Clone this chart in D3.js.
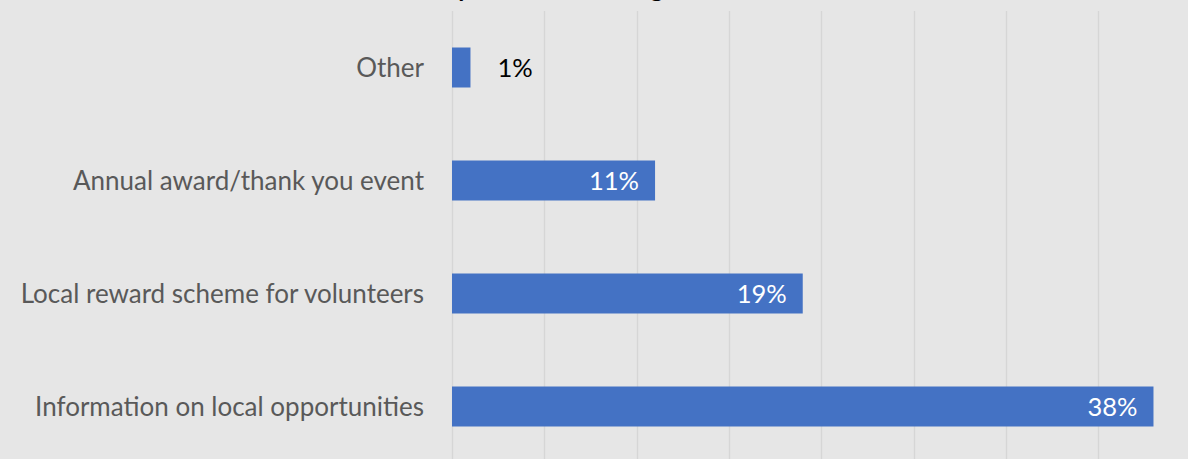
<!DOCTYPE html>
<html>
<head>
<meta charset="utf-8">
<script src="https://cdn.jsdelivr.net/npm/d3@7"></script>
<style>
  html, body { margin: 0; padding: 0; background: #e6e6e6; overflow: hidden; }
  svg { display: block; }
</style>
</head>
<body>
<svg id="chart" width="1188" height="459"></svg>
<script>
// Survey results: share of respondents per recognition method
const categories = [
  "Other",
  "Annual award/thank you event",
  "Local reward scheme for volunteers",
  "Information on local opportunities"
];
const values = [1, 11, 19, 38];
const valueLabels = ["1%", "11%", "19%", "38%"];
const xTicks = [0, 5, 10, 15, 20, 25, 30, 35, 40];
const chartTitle = "Methods used by councils to recognise volunteers";

const W = 1188, H = 459;
const plot = { left: 452, right: 1190.4, top: 11, bottom: 463 };
const FONT = "Lato, 'Open Sans', sans-serif";
const BAR = "#4472c4";

const svg = d3.select("#chart");
svg.append("rect").attr("width", W).attr("height", H).attr("fill", "#e6e6e6");

const x = d3.scaleLinear().domain([0, 40]).range([plot.left, plot.right]);
const y = d3.scaleBand()
  .domain(categories)
  .range([plot.top, plot.bottom])
  .paddingInner(0.646)
  .paddingOuter(0.323);

// vertical gridlines
svg.append("g")
  .selectAll("line")
  .data(xTicks)
  .join("line")
  .attr("x1", d => Math.round(x(d)) + 0.5)
  .attr("x2", d => Math.round(x(d)) + 0.5)
  .attr("y1", plot.top)
  .attr("y2", plot.bottom)
  .attr("stroke", "#d6d6d6")
  .attr("stroke-width", 1.3);

const rows = categories.map((c, i) => ({ cat: c, v: values[i], label: valueLabels[i] }));

// bars
svg.append("g")
  .selectAll("rect")
  .data(rows)
  .join("rect")
  .attr("x", x(0))
  .attr("y", d => y(d.cat))
  .attr("width", d => x(d.v) - x(0))
  .attr("height", y.bandwidth())
  .attr("fill", BAR);

// category labels
svg.append("g")
  .selectAll("text")
  .data(rows)
  .join("text")
  .attr("x", plot.left - 28)
  .attr("y", d => y(d.cat) + y.bandwidth() / 2)
  .attr("dy", "0.36em")
  .attr("text-anchor", "end")
  .attr("font-family", FONT)
  .attr("font-size", 26)
  .attr("fill", "#595959")
  .text(d => d.cat);

// value labels: inside the bar end when they fit, otherwise just past it
const vl = svg.append("g")
  .selectAll("text")
  .data(rows)
  .join("text")
  .attr("y", d => y(d.cat) + y.bandwidth() / 2)
  .attr("dy", "0.36em")
  .attr("font-family", FONT)
  .attr("font-size", 25.5)
  .text(d => d.label);

vl.each(function (d) {
  const t = d3.select(this);
  const tw = this.getComputedTextLength();
  const bw = x(d.v) - x(0);
  if (bw > tw + 24) {
    t.attr("x", x(d.v) - 16).attr("text-anchor", "end").attr("fill", "#ffffff");
  } else {
    t.attr("x", x(d.v) + 27).attr("text-anchor", "start").attr("fill", "#000000");
  }
});

// title sits above the top edge; only its descenders reach into view
const title = svg.append("text")
  .attr("font-family", FONT)
  .attr("font-weight", "bold")
  .attr("font-size", 24)
  .attr("fill", "#000000")
  .attr("x", 0)
  .attr("y", 0)
  .text(chartTitle);

function charCenter(node, i) {
  const e = node.getExtentOfChar(i);
  return e.x + e.width / 2;
}
const iy = chartTitle.indexOf("by") + 1;
const ig = chartTitle.indexOf("g");
const gap0 = charCenter(title.node(), ig) - charCenter(title.node(), iy);
const fs = 24 * 194 / gap0;
title.attr("font-size", fs);
const cy = charCenter(title.node(), iy);
title.attr("x", 463 - cy).attr("y", 2 - fs * 0.2);
</script>
</body>
</html>
